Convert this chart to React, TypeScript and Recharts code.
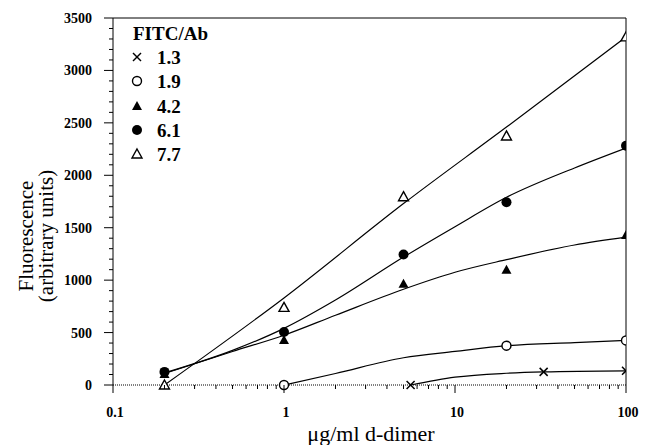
import { ComposedChart, Line, Scatter, XAxis, YAxis, ReferenceLine, Legend } from 'recharts'

const FONT = 'Liberation Serif, Times New Roman, serif'
const heavy = { fontFamily: FONT, fill: '#000', fontWeight: 'bold' as const }

// axis ticks
const xMajorTicks = [0.1, 1, 10, 100]
const xMinorTicks = [0.2, 0.3, 0.4, 0.5, 0.6, 0.7, 0.8, 0.9, 2, 3, 4, 5, 6, 7, 8, 9, 20, 30, 40, 50, 60, 70, 80, 90]
const yMajorTicks = [0, 500, 1000, 1500, 2000, 2500, 3000, 3500]
const yMinorTicks = [
  100, 200, 300, 400, 600, 700, 800, 900, 1100, 1200, 1300, 1400, 1600, 1700, 1800, 1900,
  2100, 2200, 2300, 2400, 2600, 2700, 2800, 2900, 3100, 3200, 3300, 3400,
]

// measured points (x = µg/ml d-dimer, y = fluorescence)
const ptsX13 = [5.5, 33, 100]
const ptsY13 = [0, 125, 135]
const ptsX19 = [1, 20, 100]
const ptsY19 = [0, 375, 425]
const ptsX42 = [0.2, 1, 5, 20, 100]
const ptsY42 = [105, 430, 965, 1100, 1430]
const ptsX61 = [0.2, 1, 5, 20, 100]
const ptsY61 = [125, 505, 1245, 1743, 2281]
const ptsX77 = [0.2, 1, 5, 20, 100]
const ptsY77 = [0, 740, 1796, 2375, 3320]

// fitted curves
const fitX13 = [5.5, 10, 20, 33, 100]
const fitY13 = [0, 75, 112, 125, 135]
const fitX19 = [1, 2, 5, 10, 20, 50, 100]
const fitY19 = [0, 110, 260, 320, 375, 405, 425]
const fitX42 = [0.2, 0.5, 1, 2, 5, 10, 20, 50, 100]
const fitY42 = [110, 320, 475, 665, 913, 1075, 1195, 1335, 1410]
const fitX61 = [0.2, 0.5, 1, 2, 5, 10, 20, 50, 100]
const fitY61 = [115, 330, 540, 810, 1220, 1510, 1790, 2070, 2260]
const fitX77 = [0.2, 1, 5, 20, 100]
const fitY77 = [0, 830, 1730, 2460, 3320]

const toPts = (xs: number[], ys: number[]) => xs.map((x, i) => ({ x, y: ys[i] }))

type Mark = 'cross' | 'openCircle' | 'triangle' | 'circle' | 'openTriangle'

const series: { name: string; mark: Mark; pts: { x: number; y: number }[]; fit: { x: number; y: number }[] }[] = [
  { name: '1.3', mark: 'cross', pts: toPts(ptsX13, ptsY13), fit: toPts(fitX13, fitY13) },
  { name: '1.9', mark: 'openCircle', pts: toPts(ptsX19, ptsY19), fit: toPts(fitX19, fitY19) },
  { name: '4.2', mark: 'triangle', pts: toPts(ptsX42, ptsY42), fit: toPts(fitX42, fitY42) },
  { name: '6.1', mark: 'circle', pts: toPts(ptsX61, ptsY61), fit: toPts(fitX61, fitY61) },
  { name: '7.7', mark: 'openTriangle', pts: toPts(ptsX77, ptsY77), fit: toPts(fitX77, fitY77) },
]

function Marker({ mark, cx, cy }: { mark: Mark; cx: number; cy: number }) {
  if (mark === 'cross') {
    return (
      <g stroke="#000" strokeWidth={1.5}>
        <line x1={cx - 4} y1={cy - 4} x2={cx + 4} y2={cy + 4} />
        <line x1={cx - 4} y1={cy + 4} x2={cx + 4} y2={cy - 4} />
      </g>
    )
  }
  if (mark === 'openCircle') return <circle cx={cx} cy={cy} r={4.5} fill="#fff" stroke="#000" strokeWidth={1.4} />
  if (mark === 'circle') return <circle cx={cx} cy={cy} r={5} fill="#000" />
  const pts = `${cx},${cy - 5} ${cx + 5},${cy + 4} ${cx - 5},${cy + 4}`
  if (mark === 'triangle') return <polygon points={pts} fill="#000" />
  return <polygon points={pts} fill="#fff" stroke="#000" strokeWidth={1.4} />
}

const XTick = (props: any) => {
  const { x, y, payload } = props
  const major = xMajorTicks.includes(payload.value)
  return (
    <g>
      <line x1={x} x2={x} y1={y} y2={y + (major ? 8 : 4)} stroke="#000" />
      {major && (
        <text x={x + 2} y={y + 32} textAnchor="middle" fontSize={14} {...heavy}>
          {String(payload.value)}
        </text>
      )}
    </g>
  )
}

const YTick = (props: any) => {
  const { x, y, payload } = props
  const major = yMajorTicks.includes(payload.value)
  return (
    <g>
      <line x1={x - (major ? 9 : 4)} x2={x} y1={y} y2={y} stroke="#000" />
      {major && (
        <text x={x - 21} y={y + 5} textAnchor="end" fontSize={14} {...heavy}>
          {payload.value}
        </text>
      )}
    </g>
  )
}

const legendRows = [57, 81, 106, 130, 154]

const LegendBox = () => (
  <svg width={130} height={150} style={{ overflow: 'visible' }}>
    <text x={8} y={20} fontSize={19} {...heavy}>
      FITC/Ab
    </text>
    {series.map((s, i) => (
      <g key={s.name}>
        <Marker mark={s.mark} cx={12} cy={legendRows[i] - 20} />
        <text x={32} y={legendRows[i] - 20 + 7} fontSize={19} {...heavy}>
          {s.name}
        </text>
      </g>
    ))}
  </svg>
)

export default function App() {
  return (
    <div style={{ position: 'absolute', left: 0, top: 0, background: '#fff' }}>
      <ComposedChart width={646} height={445} margin={{ top: 18, right: 20, bottom: 0, left: 0 }}>
        <XAxis
          dataKey="x"
          type="number"
          scale="log"
          domain={[0.1, 100]}
          allowDataOverflow
          ticks={[...xMajorTicks, ...xMinorTicks]}
          interval={0}
          tickSize={0}
          tickMargin={0}
          tick={<XTick />}
          height={60}
          axisLine={{ stroke: '#000', strokeDasharray: '1 1' }}
          label={{
            content: () => (
              <text x={371} y={441} textAnchor="middle" fontFamily={FONT} fontSize={22} fill="#000">
                μg/ml d-dimer
              </text>
            ),
          }}
        />
        <YAxis
          dataKey="y"
          type="number"
          domain={[0, 3500]}
          ticks={[...yMajorTicks, ...yMinorTicks]}
          interval={0}
          tickSize={0}
          tickMargin={0}
          tick={<YTick />}
          width={113}
          axisLine={{ stroke: '#000' }}
          label={{
            content: () => (
              <g fontFamily={FONT} fontSize={21} fill="#000">
                <text transform="translate(33,236) rotate(-90)" textAnchor="middle">
                  Fluorescence
                </text>
                <text transform="translate(53,236) rotate(-90)" textAnchor="middle">
                  (arbitrary units)
                </text>
              </g>
            ),
          }}
        />
        <ReferenceLine y={3500} stroke="#000" />
        <ReferenceLine x={100} stroke="#000" />
        {series.map((s) => (
          <Line
            key={`fit-${s.name}`}
            data={s.fit}
            dataKey="y"
            type="monotone"
            stroke="#000"
            strokeWidth={1.2}
            dot={false}
            activeDot={false}
            legendType="none"
            isAnimationActive={false}
          />
        ))}
        {series.map((s) => (
          <Scatter
            key={`pts-${s.name}`}
            name={s.name}
            data={s.pts}
            dataKey="y"
            shape={(p: any) => <Marker mark={s.mark} cx={p.cx} cy={p.cy} />}
            isAnimationActive={false}
          />
        ))}
        <Legend
          layout="vertical"
          align="center"
          verticalAlign="middle"
          wrapperStyle={{ position: 'absolute', left: 125, top: 20, width: 130, height: 150 }}
          content={() => <LegendBox />}
        />
      </ComposedChart>
    </div>
  )
}
